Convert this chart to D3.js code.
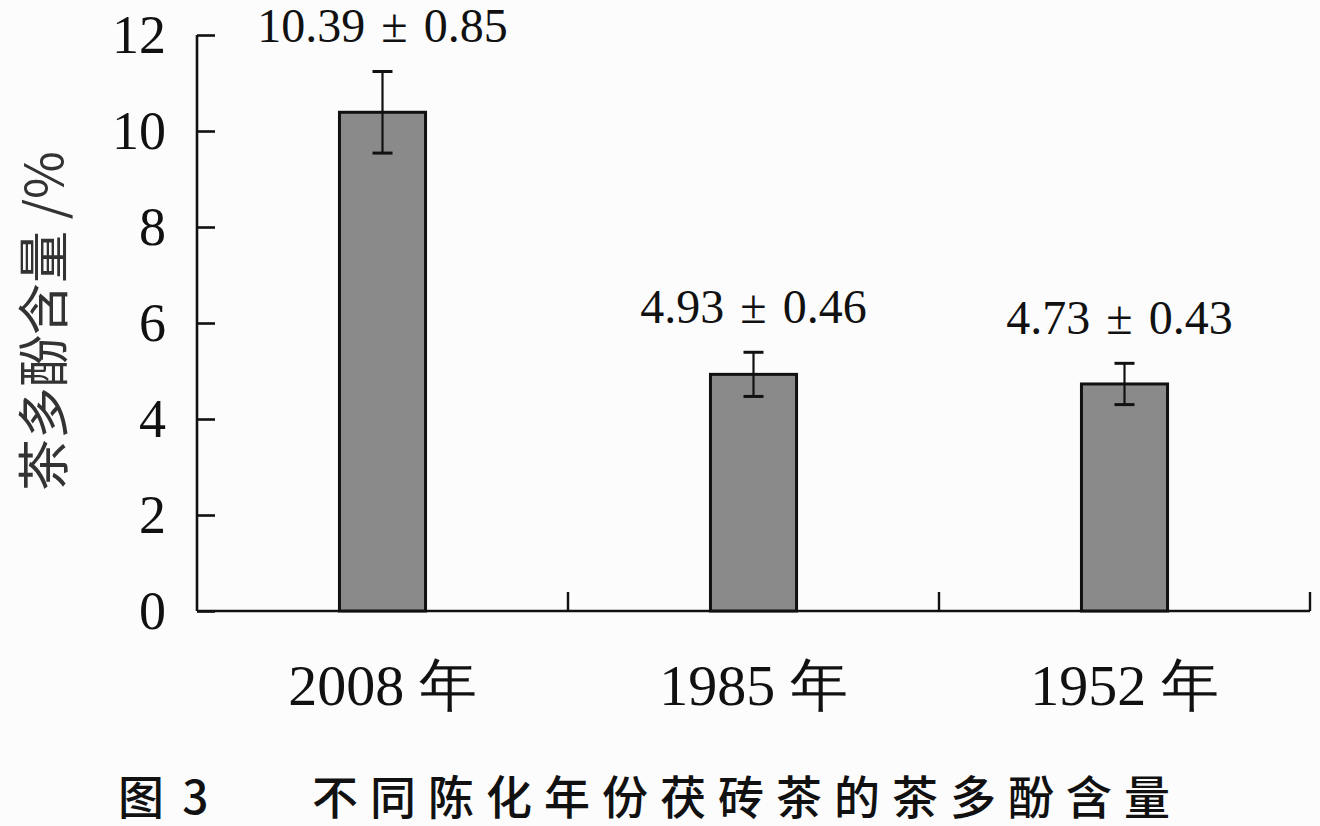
<!DOCTYPE html>
<html><head><meta charset="utf-8">
<script src="https://cdn.jsdelivr.net/npm/d3@7/dist/d3.min.js"></script>
<style>
html,body{margin:0;padding:0;background:#fcfcfd;}
svg{display:block;}
</style></head>
<body>
<svg id="chart" width="1320" height="826"></svg>
<script>
const categories = ["2008 年", "1985 年", "1952 年"];
const means = [10.39, 4.93, 4.73];
const errors = [0.85, 0.46, 0.43];
const valueLabels = ["10.39 ± 0.85", "4.93 ± 0.46", "4.73 ± 0.43"];
const yTicks = [0, 2, 4, 6, 8, 10, 12];
const yTitle = "茶多酚含量 /%";
const caption1 = "图 3";
const caption2 = "不同陈化年份茯砖茶的茶多酚含量";

const svg = d3.select("#chart");
const serif = "'Liberation Serif','Times New Roman',serif";
const cjk = "'Noto Sans CJK SC','Noto Sans',sans-serif";

const x = d3.scaleBand().domain(categories).range([197, 1310]).padding(0);
const y = d3.scaleLinear().domain([0, 12]).range([611, 35]);
const barW = x.bandwidth() * 0.232;

// Y axis
const yAxis = d3.axisRight(y).tickValues(yTicks).tickSize(18).tickFormat("");
const gy = svg.append("g").attr("transform", "translate(197,0)").call(yAxis);
gy.select(".domain").attr("d", `M0,${y(12)}V${y(0)}`).attr("stroke", "#111").attr("stroke-width", 2.6);
gy.selectAll(".tick line").attr("stroke", "#111").attr("stroke-width", 2.6);

// Y tick labels
svg.append("g").selectAll("text").data(yTicks).join("text")
  .attr("x", 166).attr("y", d => y(d))
  .attr("text-anchor", "end").attr("dominant-baseline", "central")
  .attr("font-family", serif).attr("font-size", 54).attr("fill", "#111")
  .text(d => d);

// X axis
svg.append("line").attr("x1", 197).attr("x2", 1310).attr("y1", y(0)).attr("y2", y(0))
  .attr("stroke", "#111").attr("stroke-width", 2.6);
svg.append("g").selectAll("line").data(categories).join("line")
  .attr("x1", d => x(d) + x.bandwidth()).attr("x2", d => x(d) + x.bandwidth())
  .attr("y1", y(0)).attr("y2", y(0) - 19)
  .attr("stroke", "#111").attr("stroke-width", 2.4);

// X labels
svg.append("g").selectAll("text").data(categories).join("text")
  .attr("x", d => x(d) + x.bandwidth() / 2).attr("y", 705)
  .attr("text-anchor", "middle")
  .attr("font-family", serif).attr("font-size", 58).attr("fill", "#111")
  .text(d => d);

// Bars
svg.append("g").selectAll("rect").data(means).join("rect")
  .attr("x", (d, i) => x(categories[i]) + x.bandwidth() / 2 - barW / 2)
  .attr("y", d => y(d))
  .attr("width", barW)
  .attr("height", d => y(0) - y(d))
  .attr("fill", "#8a8a8a").attr("stroke", "#111").attr("stroke-width", 3);

// Error bars
const eg = svg.append("g").attr("stroke", "#111").attr("stroke-width", 2.2);
means.forEach((m, i) => {
  const cx = x(categories[i]) + x.bandwidth() / 2;
  const top = y(m + errors[i]), bot = y(m - errors[i]);
  eg.append("line").attr("x1", cx).attr("x2", cx).attr("y1", top).attr("y2", bot);
  eg.append("line").attr("x1", cx - 10).attr("x2", cx + 10).attr("y1", top).attr("y2", top).attr("stroke-width", 3);
  eg.append("line").attr("x1", cx - 10).attr("x2", cx + 10).attr("y1", bot).attr("y2", bot).attr("stroke-width", 3);
});

// Value labels
svg.append("g").selectAll("text").data(valueLabels).join("text")
  .attr("x", (d, i) => x(categories[i]) + x.bandwidth() / 2 - (i === 2 ? 5 : 0))
  .attr("y", (d, i) => y(means[i] + errors[i]) - 29)
  .attr("text-anchor", "middle")
  .attr("font-family", serif).attr("font-size", 48).attr("word-spacing", 4).attr("fill", "#111")
  .text(d => d);

// Y title
svg.append("text")
  .attr("transform", "translate(40,321) rotate(-90)")
  .attr("text-anchor", "middle").attr("dominant-baseline", "central")
  .attr("font-family", cjk).attr("font-size", 52).attr("fill", "#333")
  .text(yTitle);

// Caption
svg.append("text").attr("x", 118).attr("y", 794).attr("dominant-baseline", "central")
  .attr("font-family", cjk).attr("font-size", 46).attr("font-weight", 500).attr("letter-spacing", 4).attr("fill", "#111")
  .text(caption1);
svg.append("text").attr("x", 312).attr("y", 794).attr("dominant-baseline", "central")
  .attr("font-family", cjk).attr("font-size", 46).attr("font-weight", 500).attr("letter-spacing", 12).attr("fill", "#111")
  .text(caption2);
</script>
</body></html>
